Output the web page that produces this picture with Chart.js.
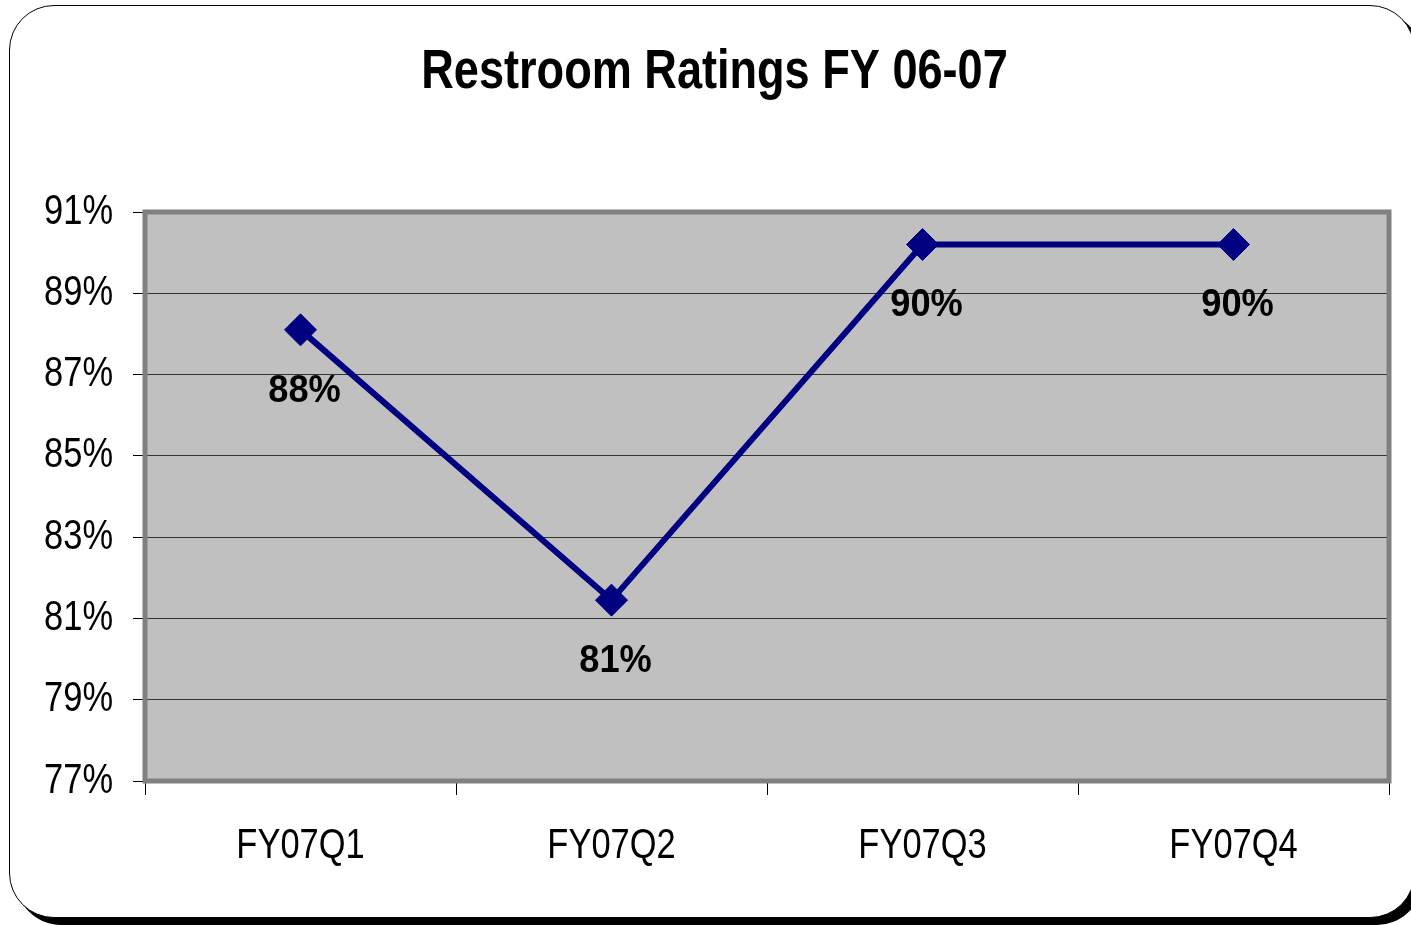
<!DOCTYPE html>
<html>
<head>
<meta charset="utf-8">
<title>Restroom Ratings FY 06-07</title>
<script src="https://cdn.jsdelivr.net/npm/chart.js@4"></script>
<style>
  html, body { margin: 0; padding: 0; background: #fff; }
  body { width: 1411px; height: 925px; position: relative; overflow: hidden; }
  #frame {
    position: absolute; left: 9px; top: 5px; width: 1404px; height: 911px;
    border: 1.5px solid #000; border-radius: 45px;
    box-shadow: 7px 7px 0 #000; background: #fff;
  }
  #chart-wrap { position: absolute; left: 0; top: 0; width: 1411px; height: 925px; }
  #ratings { display: block; }
</style>
</head>
<body>
<div id="frame"></div>
<div id="chart-wrap"><canvas id="ratings" width="1411" height="925"></canvas></div>
<script>
// chart data
const categories = ['FY07Q1', 'FY07Q2', 'FY07Q3', 'FY07Q4'];
const ratings = [88.1, 81.45, 90.2, 90.2];
const yTicks = [77, 79, 81, 83, 85, 87, 89, 91];

const FONT = "'Liberation Sans', Arial, sans-serif";
const NAVY = '#000080';
const SQUEEZE = 0.82; // no Arial Narrow here, so squeeze the text instead
const rawFillText = CanvasRenderingContext2D.prototype.fillText;

// squeeze the library's text horizontally (title + tick labels)
const narrowText = {
    id: 'narrowText',
    beforeDraw(chart) {
        chart.ctx.fillText = function (text, x, y, maxWidth) {
            const w = this.measureText(text).width * SQUEEZE;
            rawFillText.call(this, text, x, y, maxWidth === undefined ? w : Math.min(w, maxWidth));
        };
    },
    afterDraw(chart) {
        delete chart.ctx.fillText;
    }
};

// grey plot background + 3d-ish border
const plotArea = {
    id: 'plotArea',
    beforeDraw(chart) {
        const { ctx, chartArea: a } = chart;
        ctx.save();
        ctx.fillStyle = '#c0c0c0';
        ctx.fillRect(a.left, a.top, a.right - a.left, a.bottom - a.top);
        ctx.restore();
    },
    beforeDatasetsDraw(chart) {
        const { ctx, chartArea: a } = chart;
        ctx.save();
        ctx.strokeStyle = '#808080';
        ctx.lineWidth = 5;
        ctx.strokeRect(a.left, a.top, a.right - a.left, a.bottom - a.top);
        ctx.restore();
    }
};

// value labels under each point
const valueLabels = {
    id: 'valueLabels',
    afterDatasetsDraw(chart) {
        const { ctx } = chart;
        const meta = chart.getDatasetMeta(0);
        ctx.save();
        ctx.font = 'bold 39px ' + FONT;
        ctx.fillStyle = '#000';
        ctx.textAlign = 'center';
        ctx.textBaseline = 'middle';
        meta.data.forEach((pt, i) => {
            const txt = Math.round(ratings[i]) + '%';
            rawFillText.call(ctx, txt, pt.x + 4, pt.y + 61, ctx.measureText(txt).width * 0.93);
        });
        ctx.restore();
    }
};

new Chart(document.getElementById('ratings'), {
    type: 'line',
    data: {
        labels: categories,
        datasets: [{
            data: ratings,
            borderColor: NAVY,
            borderWidth: 6,
            backgroundColor: NAVY,
            pointStyle: 'rectRot',
            pointRadius: 16,
            pointBorderWidth: 1,
            pointBorderColor: NAVY,
            pointBackgroundColor: NAVY,
            tension: 0,
            fill: false
        }]
    },
    options: {
        responsive: false,
        animation: false,
        devicePixelRatio: 1,
        layout: { padding: { left: 40, right: 22, top: 0, bottom: 0 } },
        plugins: {
            legend: { display: false },
            tooltip: { enabled: false },
            title: {
                display: true,
                text: 'Restroom Ratings FY 06-07',
                color: '#000',
                font: { family: FONT, size: 55, weight: 'bold', lineHeight: 1.2 },
                padding: { top: 40, bottom: 106 }
            }
        },
        scales: {
            x: {
                offset: true,
                grid: {
                    offset: true,
                    drawOnChartArea: false,
                    drawTicks: true,
                    tickLength: 14,
                    color: '#000'
                },
                border: { display: true, color: '#000', width: 1 },
                ticks: {
                    color: '#000',
                    padding: 26,
                    maxRotation: 0,
                    font: { family: FONT, size: 42 }
                },
                afterFit(scale) { scale.height = 144; }
            },
            y: {
                min: 77,
                max: 91,
                afterBuildTicks(scale) { scale.ticks = yTicks.map(v => ({ value: v })); },
                grid: {
                    color: '#333',
                    lineWidth: 1,
                    drawTicks: true,
                    tickLength: 12,
                    tickColor: '#000'
                },
                border: { display: false },
                ticks: {
                    color: '#000',
                    padding: 20,
                    font: { family: FONT, size: 42 },
                    callback: v => v + '%'
                },
                afterFit(scale) { scale.width = 105; }
            }
        }
    },
    plugins: [narrowText, plotArea, valueLabels]
});
</script>
</body>
</html>
